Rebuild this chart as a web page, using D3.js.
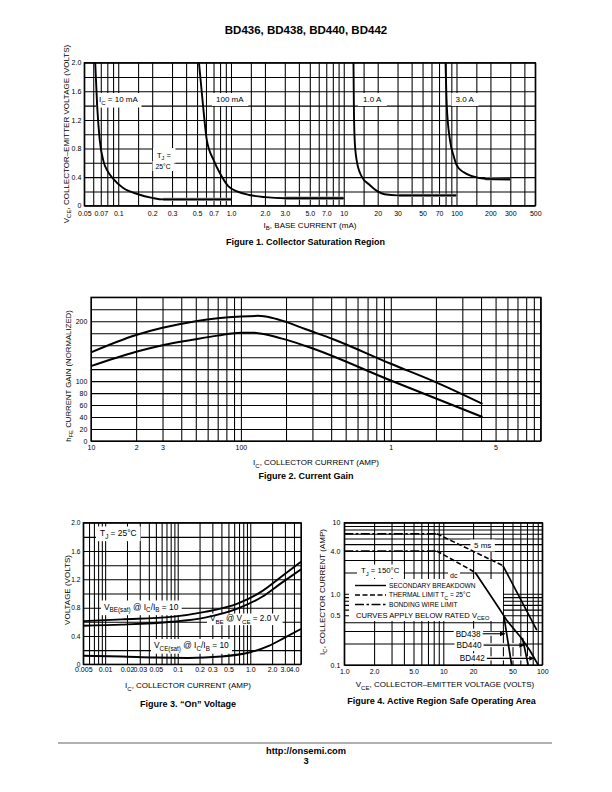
<!DOCTYPE html>
<html><head><meta charset="utf-8">
<script src="https://cdn.jsdelivr.net/npm/d3@7"></script>
<style>
body{margin:0;background:#fff;}
svg{display:block;font-family:"Liberation Sans",Arial,Helvetica,sans-serif;}
</style></head><body>
<script>
// ================= DATA =================
// Figure 1 – Collector Saturation Region (IB in mA, VCE in V)
const fig1XTickValues = [0.05,0.07,0.1,0.2,0.3,0.5,0.7,1,2,3,5,7,10,20,30,50,70,100,200,300,500];
const fig1XTickLabels = ["0.05","0.07","0.1","0.2","0.3","0.5","0.7","1.0","2.0","3.0","5.0","7.0","10","20","30","50","70","100","200","300","500"];
const fig1YTickValues = [0,0.4,0.8,1.2,1.6,2.0];
const fig1YTickLabels = ["0","0.4","0.8","1.2","1.6","2.0"];
const fig1Ic10mA  = [[0.0625,2.0],[0.065,1.4],[0.0685,0.92],[0.074,0.62],[0.08,0.49],[0.09,0.38],[0.11,0.25],[0.15,0.16],[0.2,0.11],[0.25,0.088],[1.0,0.088]];
const fig1Ic100mA = [[0.52,2.0],[0.565,1.4],[0.61,0.92],[0.7,0.64],[0.8,0.45],[0.95,0.27],[1.13,0.2],[1.45,0.15],[2.0,0.12],[3.0,0.105],[10,0.105]];
const fig1Ic1A    = [[12.2,2.0],[12.3,1.4],[12.5,0.92],[13.0,0.64],[14.4,0.41],[17,0.29],[20,0.2],[23,0.16],[30,0.145],[100,0.145]];
const fig1Ic3A    = [[80,2.0],[82,1.4],[87.5,0.92],[95,0.68],[100,0.57],[115,0.47],[140,0.41],[180,0.375],[300,0.37]];

// Figure 2 – Current Gain (IC in mA, hFE)
const fig2XTickValues = [10,20,30,100,1000,5000];
const fig2XTickLabels = ["10","2","3","100","1","5"];
const fig2YTickValues = [0,20,40,60,80,100,200];
const fig2YTickLabels = ["0","20","40","60","80","100","200"];
const fig2Upper = [[10,148],[20,177],[30,189],[50,200],[70,205],[100,208],[130,209],[160,206],[200,199],[268,187],[413,170],[1000,129],[1924,100],[4090,62]];
const fig2Lower = [[10,125],[20,149],[30,160],[50,170],[70,176],[100,181],[120,181],[188,171],[268,159],[1000,101],[4090,40]];

// Figure 3 – "On" Voltage (IC in A, V)
const fig3XTickValues = [0.005,0.01,0.02,0.03,0.05,0.1,0.2,0.3,0.5,1,2,3,4];
const fig3XTickLabels = ["0.005","0.01","0.02","0.03","0.05","0.1","0.2","0.3","0.5","1.0","2.0","3.0","4.0"];
const fig3YTickValues = [0,0.4,0.8,1.2,1.6,2.0];
const fig3YTickLabels = ["0","0.4","0.8","1.2","1.6","2.0"];
const fig3VbeSat = [[0.005,0.61],[0.0169,0.635],[0.082,0.67],[0.237,0.74],[0.68,0.86],[1.44,1.03],[2.7,1.24],[5,1.45]];
const fig3VbeOn  = [[0.005,0.545],[0.0169,0.56],[0.082,0.6],[0.237,0.66],[0.68,0.79],[1.44,0.95],[2.7,1.15],[5,1.34]];
const fig3VceSat = [[0.005,0.12],[0.0169,0.11],[0.048,0.095],[0.139,0.09],[0.4,0.11],[1.0,0.17],[1.8,0.26],[2.9,0.37],[5,0.5]];

// Figure 4 – Active Region Safe Operating Area (VCE in V, IC in A)
const fig4XTickValues = [1,2,5,10,20,50,100];
const fig4XTickLabels = ["1.0","2.0","5.0","10","20","50","100"];
const fig4YTickValues = [0.1,0.5,1,4,10];
const fig4YTickLabels = ["0.1","0.5","1.0","4.0","10"];
const fig4BondWire5ms  = [[1,7.0],[8.6,7.0]];
const fig4Thermal5ms   = [[8.6,7.0],[40,2.5]];
const fig4Second5ms    = [[40,2.5],[88,0.31]];
const fig4BondWireDC   = [[1,4.0],[8.6,4.0]];
const fig4ThermalDC    = [[8.6,4.0],[21,2.0]];
const fig4SecondDC     = [[21,2.0],[28,1.1],[36,0.65],[44,0.42],[60,0.25],[75,0.16],[91,0.1]];
const fig4BD438        = [[41,0.48],[49,0.1]];
const fig4BD440        = [[63,0.24],[72,0.1]];
const fig4BDLabels     = ["BD438","BD440","BD442"];
const fig4BDArrowI     = [0.275,0.19,0.124];
const fig4BDArrowTail  = [25,25.5,27.5];
const fig4BDArrowTip   = [42,66,83];

// ================= HELPERS =================
const FONT = '"Liberation Sans", Arial, Helvetica, sans-serif';
const TICK = 7, TITLE = 8;
const svg = d3.select("body").append("svg").attr("width",612).attr("height",792);
svg.append("defs").append("marker").attr("id","ah").attr("viewBox","0 0 10 10")
  .attr("refX",10).attr("refY",5).attr("markerWidth",5).attr("markerHeight",5)
  .attr("markerUnits","userSpaceOnUse").attr("orient","auto")
  .append("path").attr("d","M0,0L10,5L0,10Z").attr("fill","#000");

function logGrid(min,max,mults){
  const out=[];
  for(let e=Math.floor(Math.log10(min))-1;e<=Math.ceil(Math.log10(max));e++){
    for(const k of mults){const v=+(k*Math.pow(10,e)).toPrecision(6); if(v>=min*0.9999&&v<=max*1.0001) out.push(v);}
  }
  return out;
}
function rich(g,x,y,parts,opt={}){
  const size=opt.size||6.5;
  const t=g.append("text").attr("x",x).attr("y",y).attr("font-size",size)
    .attr("text-anchor",opt.anchor||"start").attr("font-weight",opt.weight||"normal")
    .attr("fill","#000").attr("font-family",FONT);
  if(opt.rotate) t.attr("transform",`rotate(${opt.rotate},${x},${y})`);
  let shift=0;
  parts.forEach(p=>{
    const sub=Array.isArray(p); const txt=sub?p[0]:p;
    const ts=t.append("tspan").text(txt);
    const target=sub?size*0.32:0;
    if(target!==shift){ts.attr("dy",(target-shift).toFixed(2)); shift=target;}
    if(sub) ts.attr("font-size",size*0.75);
  });
  return t;
}
function boxBehind(layer,textSel,px,py){
  const b=textSel.node().getBBox();
  layer.append("rect").attr("x",b.x-px).attr("y",b.y-py).attr("width",b.width+2*px).attr("height",b.height+2*py).attr("fill","#fff");
}
function drawGrid(g,x,y,xVals,yVals){
  const [x0,x1]=x.range(), [y0,y1]=y.range();
  g.append("g").attr("transform",`translate(0,${y0})`)
    .call(d3.axisBottom(x).tickValues(xVals).tickSize(-(y0-y1)).tickFormat(""))
    .call(s=>s.select(".domain").remove())
    .selectAll("line").attr("stroke","#000").attr("stroke-width",1.05);
  g.append("g").attr("transform",`translate(${x0},0)`)
    .call(d3.axisLeft(y).tickValues(yVals).tickSize(-(x1-x0)).tickFormat(""))
    .call(s=>s.select(".domain").remove())
    .selectAll("line").attr("stroke","#000").attr("stroke-width",1.05);
}
function drawBorder(g,x,y){
  const [x0,x1]=x.range(), [y0,y1]=y.range();
  g.append("rect").attr("x",x0).attr("y",y1).attr("width",x1-x0).attr("height",y0-y1)
    .attr("fill","none").attr("stroke","#000").attr("stroke-width",1.3);
}
function tickLabels(g,x,y,xv,xl,yv,yl,xOff,yPad,ySize){
  const [x0]=x.range(), [y0]=y.range();
  const ax=g.append("g").attr("transform",`translate(0,${y0+xOff})`)
    .call(d3.axisBottom(x).tickValues(xv).tickSize(0).tickPadding(0).tickFormat((d,i)=>xl[i]));
  ax.select(".domain").remove();
  ax.selectAll("text").attr("font-size",TICK).attr("font-family",FONT).attr("fill","#000");
  const ay=g.append("g").attr("transform",`translate(${x0},0)`)
    .call(d3.axisLeft(y).tickValues(yv).tickSize(0).tickPadding(yPad).tickFormat((d,i)=>yl[i]));
  ay.select(".domain").remove();
  ay.selectAll("text").attr("font-size",ySize||TICK).attr("font-family",FONT).attr("fill","#000");
}
function curve(g,x,y,data,opt={}){
  const line=d3.line().x(d=>x(d[0])).y(d=>y(d[1])).curve(opt.smooth?d3.curveMonotoneX:d3.curveLinear);
  const p=g.append("path").datum(data).attr("d",line).attr("fill","none")
    .attr("stroke",opt.color||"#000").attr("stroke-width",opt.width||1.8).attr("stroke-linejoin","round");
  if(opt.dash) p.attr("stroke-dasharray",opt.dash);
  return p;
}
function caption(x,y,txt){
  svg.append("text").attr("x",x).attr("y",y).attr("text-anchor","middle").attr("font-size",9)
    .attr("font-weight","bold").attr("font-family",FONT).text(txt);
}

// ================= HEADER =================
svg.append("text").attr("x",306).attr("y",34).attr("text-anchor","middle").attr("font-size",11.5)
  .attr("font-weight","bold").attr("font-family",FONT).text("BD436, BD438, BD440, BD442");

// ================= FIGURE 1 =================
{
  const g=svg.append("g");
  const x=d3.scaleLog().domain([0.05,500]).range([84.3,535.3]);
  const y=d3.scaleLinear().domain([0,2]).range([205.7,62.7]);
  drawGrid(g,x,y,logGrid(0.05,500,[1,1.5,2,3,4,5,6,7,8,9]),d3.range(0,2.001,0.2));
  const boxes=g.append("g"), curves=g.append("g"), texts=g.append("g");
  [fig1Ic10mA,fig1Ic100mA,fig1Ic1A,fig1Ic3A].forEach(c=>{
    curve(curves,x,y,c.slice(-2),{color:"#9a9a9a",width:3.2});
    curve(curves,x,y,c,{smooth:true,width:1.9});
  });
  drawBorder(g,x,y);
  const l1=rich(texts,99,102,["I",["C"]," = 10 mA"],{size:8}); boxBehind(boxes,l1,3,2);
  const l2=rich(texts,216,102,["100 mA"],{size:8}); boxBehind(boxes,l2,4,2);
  const l3=rich(texts,363,102,["1.0 A"],{size:8}); boxBehind(boxes,l3,5,2);
  const l4=rich(texts,455.5,102,["3.0 A"],{size:8}); boxBehind(boxes,l4,4,2);
  const l5=rich(texts,157,157.5,["T",["J"]," ="],{size:7.5}); boxBehind(boxes,l5,4,2.5);
  const l6=rich(texts,155.5,168.5,["25°C"],{size:6.8}); boxBehind(boxes,l6,3,1.5);
  tickLabels(g,x,y,fig1XTickValues,fig1XTickLabels,fig1YTickValues,fig1YTickLabels,4.9,3);
  rich(g,68.5,134,["V",["CE"],", COLLECTOR–EMITTER VOLTAGE (VOLTS)"],{size:TITLE,anchor:"middle",rotate:-90});
  rich(g,310,227.5,["I",["B"],", BASE CURRENT (mA)"],{size:TITLE,anchor:"middle"});
  caption(305.5,244.5,"Figure 1. Collector Saturation Region");
}

// ================= FIGURE 2 =================
{
  const g=svg.append("g");
  const x=d3.scaleLog().domain([10,10000]).range([91,540.7]);
  const y=d3.scaleLinear().domain([0,240]).range([441,297.3]);
  drawGrid(g,x,y,logGrid(10,10000,[1,2,3,4,5,6,7,8,9]),d3.range(0,240.1,20));
  curve(g,x,y,fig2Upper,{smooth:true,width:2});
  curve(g,x,y,fig2Lower,{smooth:true,width:2});
  drawBorder(g,x,y);
  tickLabels(g,x,y,fig2XTickValues,fig2XTickLabels,fig2YTickValues,fig2YTickLabels,4,3.7);
  rich(g,70.5,376,["h",["FE"]," CURRENT GAIN (NORMALIZED)"],{size:7.8,anchor:"middle",rotate:-90});
  rich(g,316,465,["I",["C"],", COLLECTOR CURRENT (AMP)"],{size:TITLE,anchor:"middle"});
  caption(306,478.5,"Figure 2. Current Gain");
}

// ================= FIGURE 3 =================
{
  const g=svg.append("g");
  const x=d3.scaleLog().domain([0.005,5]).range([83.3,301]);
  const y=d3.scaleLinear().domain([0,2]).range([664.3,522.7]);
  drawGrid(g,x,y,logGrid(0.005,5,[1,2,3,4,5,6,7,8,9]),d3.range(0,2.001,0.2));
  const boxes=g.append("g"), curves=g.append("g"), texts=g.append("g");
  curve(curves,x,y,fig3VbeSat,{smooth:true,width:1.9});
  curve(curves,x,y,fig3VbeOn,{smooth:true,width:1.9});
  curve(curves,x,y,fig3VceSat,{smooth:true,width:1.9});
  drawBorder(g,x,y);
  const a=rich(texts,100,536,["T",["J"]," = 25°C"],{size:8.4}); boxBehind(boxes,a,4,1.5);
  const b=rich(texts,104,609.5,["V",["BE(sat)"]," @ I",["C"],"/I",["B"]," = 10"],{size:8.4}); boxBehind(boxes,b,3,1);
  const c=rich(texts,210,621,["V",["BE"]," @ V",["CE"]," = 2.0 V"],{size:8.2}); boxBehind(boxes,c,3,0.5);
  const d=rich(texts,154,648,["V",["CE(sat)"]," @ I",["C"],"/I",["B"]," = 10"],{size:8.4}); boxBehind(boxes,d,3,1);
  tickLabels(g,x,y,fig3XTickValues,fig3XTickLabels,fig3YTickValues,fig3YTickLabels,3.2,2.8,6.6);
  rich(g,69.5,590,["VOLTAGE (VOLTS)"],{size:TITLE,anchor:"middle",rotate:-90});
  rich(g,188,688,["I",["C"],", COLLECTOR CURRENT (AMP)"],{size:TITLE,anchor:"middle"});
  caption(188,707,"Figure 3. “On” Voltage");
}

// ================= FIGURE 4 =================
{
  const g=svg.append("g");
  const x=d3.scaleLog().domain([1,100]).range([344.3,542.3]);
  const y=d3.scaleLog().domain([0.1,10]).range([665,522.7]);
  drawGrid(g,x,y,logGrid(1,100,[1,2,3,4,5,6,7,8,9]),logGrid(0.1,10,[1,2,3,4,5,6,7,8,9]));
  const boxes=g.append("g"), curves=g.append("g"), texts=g.append("g");
  const DASH="5,2.5", DASHDOT="9,2.5,2.5,2.5";
  curve(curves,x,y,fig4BondWire5ms,{dash:DASHDOT,width:1.6});
  curve(curves,x,y,fig4Thermal5ms,{dash:DASH,width:1.6});
  curve(curves,x,y,fig4Second5ms,{width:1.7});
  curve(curves,x,y,fig4BondWireDC,{dash:DASHDOT,width:1.6});
  curve(curves,x,y,fig4ThermalDC,{dash:DASH,width:1.6});
  curve(curves,x,y,fig4SecondDC,{width:1.7});
  curve(curves,x,y,fig4BD438,{width:1.7});
  curve(curves,x,y,fig4BD440,{width:1.7});
  drawBorder(g,x,y);
  const t5=rich(texts,474,548,["5 ms"],{size:8}); boxBehind(boxes,t5,3.5,1.5);
  const tj=rich(texts,361,573,["T",["J"]," = 150°C"],{size:7.8}); boxBehind(boxes,tj,4,1.5);
  const dc=rich(texts,450,577.5,["dc"],{size:7}); boxBehind(boxes,dc,2,1);
  boxes.append("rect").attr("x",349).attr("y",579).attr("width",154).attr("height",42).attr("fill","#fff");
  const legY=[585.5,595,604.5], legDash=[null,DASH,DASHDOT];
  const legTxt=[["SECONDARY BREAKDOWN"],["THERMAL LIMIT T",["C"]," = 25°C"],["BONDING WIRE LIMIT"]];
  legY.forEach((ly,i)=>{
    const l=texts.append("line").attr("x1",355).attr("x2",386).attr("y1",ly).attr("y2",ly)
      .attr("stroke","#000").attr("stroke-width",1.4);
    if(legDash[i]) l.attr("stroke-dasharray",legDash[i]);
    rich(texts,389,ly+2.4,legTxt[i],{size:6.6});
  });
  rich(texts,356,617.8,["CURVES APPLY BELOW RATED V",["CEO"]],{size:7.6});
  fig4BDLabels.forEach((lab,i)=>{
    const yy=y(fig4BDArrowI[i]);
    const t=rich(texts,x(fig4BDArrowTail[i])-2,yy+2.9,[lab],{anchor:"end",size:8.2}); boxBehind(boxes,t,2,1);
    boxes.append("rect").attr("x",x(fig4BDArrowTail[i])-1).attr("y",yy-2).attr("width",x(fig4BDArrowTip[i])-x(fig4BDArrowTail[i])-2).attr("height",4).attr("fill","#fff");
    texts.append("line").attr("x1",x(fig4BDArrowTail[i])).attr("x2",x(fig4BDArrowTip[i]))
      .attr("y1",yy).attr("y2",yy).attr("stroke","#000").attr("stroke-width",1.1).attr("marker-end","url(#ah)");
  });
  tickLabels(g,x,y,fig4XTickValues,fig4XTickLabels,fig4YTickValues,fig4YTickLabels,4,4);
  rich(g,324.8,592,["I",["C"],", COLLECTOR CURRENT (AMP)"],{size:TITLE,anchor:"middle",rotate:-90});
  rich(g,445,687,["V",["CE"],", COLLECTOR–EMITTER VOLTAGE (VOLTS)"],{size:TITLE,anchor:"middle"});
  caption(441.5,704,"Figure 4. Active Region Safe Operating Area");
}

// ================= FOOTER =================
svg.append("line").attr("x1",58).attr("x2",552).attr("y1",743).attr("y2",743).attr("stroke","#b0b0b0").attr("stroke-width",2);
svg.append("text").attr("x",306).attr("y",754).attr("text-anchor","middle").attr("font-size",9.3)
  .attr("font-weight","bold").attr("font-family",FONT).text("http://onsemi.com");
svg.append("text").attr("x",306).attr("y",764).attr("text-anchor","middle").attr("font-size",9.3)
  .attr("font-weight","bold").attr("font-family",FONT).text("3");
</script></body></html>
